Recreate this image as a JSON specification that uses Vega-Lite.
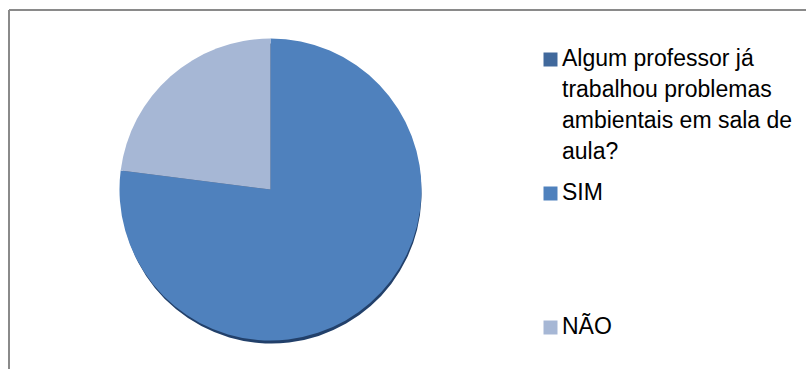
{
  "$schema": "https://vega.github.io/schema/vega-lite/v6.json",
  "autosize": {"type": "none"},
  "width": 797,
  "height": 359,
  "padding": {"left": 9, "top": 10, "right": 0, "bottom": 0},
  "background": "white",
  "config": {
    "view": {"stroke": null},
    "font": "Liberation Sans",
    "style": {"guide-label": {"lineHeight": 31, "dy": -12}}
  },
  "data": {
    "values": [
      {"resposta": "Algum professor já trabalhou problemas ambientais em sala de aula?", "valor": 0, "ordem": 1},
      {"resposta": "SIM", "valor": 77, "ordem": 2},
      {"resposta": "NÃO", "valor": 23, "ordem": 3}
    ]
  },
  "layer": [
    {
      "data": {"values": [{"moldura": "esquerda"}]},
      "mark": {"type": "rule", "stroke": "#8a8a8a", "strokeWidth": 2},
      "encoding": {
        "x": {"value": 0},
        "y": {"value": 0},
        "y2": {"value": "height"}
      }
    },
    {
      "data": {"values": [{"moldura": "topo"}]},
      "mark": {"type": "rule", "stroke": "#8a8a8a", "strokeWidth": 2},
      "encoding": {
        "x": {"value": 0},
        "x2": {"value": "width"},
        "y": {"value": 0}
      }
    },
    {
      "mark": {
        "type": "arc",
        "radius": 150,
        "x": {"expr": "width * 0.3281"},
        "y": {"expr": "height * 0.5"},
        "xOffset": 1,
        "yOffset": 4,
        "fill": "#22406a",
        "stroke": null
      },
      "encoding": {
        "theta": {"field": "valor", "type": "quantitative", "stack": true},
        "order": {"field": "ordem", "type": "ordinal"}
      }
    },
    {
      "mark": {
        "type": "arc",
        "radius": 151,
        "x": {"expr": "width * 0.3281"},
        "y": {"expr": "height * 0.5"},
        "stroke": null
      },
      "encoding": {
        "theta": {"field": "valor", "type": "quantitative", "stack": true},
        "order": {"field": "ordem", "type": "ordinal"},
        "color": {
          "field": "resposta",
          "type": "nominal",
          "scale": {
            "domain": ["Algum professor já trabalhou problemas ambientais em sala de aula?", "SIM", "NÃO"],
            "range": ["#41699c", "#4f81bd", "#a6b7d5"]
          },
          "legend": {
            "title": null,
            "orient": "none",
            "legendX": 530,
            "legendY": 38,
            "direction": "vertical",
            "padding": 0,
            "gridAlign": "all",
            "rowPadding": 17,
            "symbolType": "square",
            "symbolSize": 196,
            "symbolStrokeWidth": 0,
            "symbolOpacity": 1,
            "labelFont": "Liberation Sans",
            "labelFontSize": 23,
            "labelColor": "#000000",
            "labelOffset": 0,
            "labelLimit": 0,
            "labelBaseline": "top",
            "labelExpr": "datum.label === 'Algum professor já trabalhou problemas ambientais em sala de aula?' ? ['Algum professor já', 'trabalhou problemas', 'ambientais em sala de', 'aula?'] : datum.label"
          }
        }
      }
    }
  ]
}
